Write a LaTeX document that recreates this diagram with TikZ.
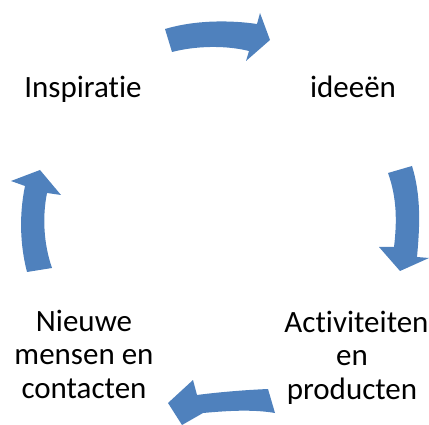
\documentclass[tikz,border=0pt]{standalone}
\usepackage{fontspec}
\setmainfont{Carlito}[Ligatures={NoCommon},Contextuals={NoAlternate}]
\definecolor{arrowblue}{HTML}{4F81BD}
\begin{document}
\begin{tikzpicture}[x=1pt,y=-1pt,
  cyclearrow/.style={fill=arrowblue,draw=none},
  label/.style={font=\fontsize{31}{33.5}\selectfont,align=center,inner sep=0pt,anchor=base,text=black}]
\useasboundingbox (0,0) rectangle (429,425);
% texts (base anchor = last line baseline)
\node[label] (insp) at (83,98) {Inspiratie};
\node[label] (idee) at (353,98) {ideeën};
\node[label] (act) at (352,399) {Activiteiten\hspace*{-9pt}\\en\\producten};
\node[label] (nieuw) at (84,398) {Nieuwe\\mensen en\\contacten};
% top arrow
\fill[cyclearrow] (165,29) .. controls (195,20) and (230,20) .. (257,24) -- (260,13) -- (270,40) -- (246,61) -- (249,51) .. controls (225,45) and (195,46) .. (172,52) -- cycle;
% right arrow
\fill[cyclearrow] (388,173) -- (412,166) .. controls (421,195) and (420,225) .. (417,257) -- (429,258) -- (400,271) -- (379,247) -- (394,247) .. controls (397,222) and (397,198) .. (388,173) -- cycle;
% bottom arrow
\fill[cyclearrow] (268,389) .. controls (245,390) and (220,392) .. (197,395) -- (193,380) -- (168,403) -- (182,425) -- (203,413) .. controls (225,411) and (252,409) .. (275,413) -- cycle;
% left arrow
\fill[cyclearrow] (27,272) .. controls (20,245) and (19,215) .. (25,186) -- (11,181) -- (40,170) -- (61,195) -- (47,193) .. controls (42,218) and (44,245) .. (52,268) -- cycle;
\end{tikzpicture}
\end{document}
